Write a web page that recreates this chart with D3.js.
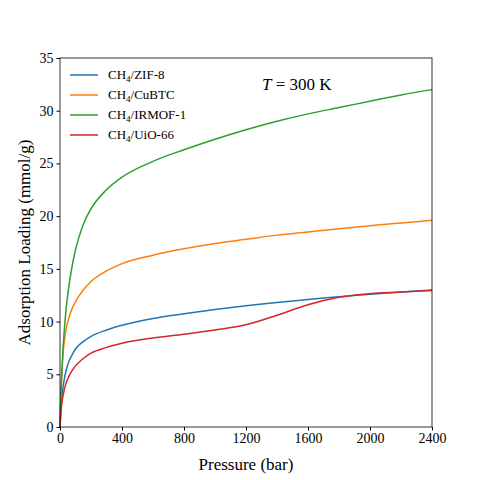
<!DOCTYPE html>
<html><head><meta charset="utf-8">
<script src="https://cdn.jsdelivr.net/npm/d3@7"></script>
<style>body{margin:0;background:#fff}text{font-family:"Liberation Serif","DejaVu Serif",serif}</style>
</head><body><svg id="c" width="480" height="480"></svg>
<script>
const pressure = [0,2,5,10,20,40,60,80,100,150,200,300,400,600,800,1000,1200,1400,1600,1800,2000,2200,2400];
const zif8   = [0,0.6,1.4,2.4,3.8,5.4,6.3,6.9,7.4,8.1,8.6,9.2,9.65,10.3,10.75,11.15,11.5,11.8,12.1,12.35,12.6,12.8,13.0];
const cubtc  = [0,1.2,2.8,4.6,7.0,9.3,10.5,11.3,11.9,13.0,13.8,14.8,15.5,16.3,16.9,17.4,17.8,18.2,18.5,18.8,19.1,19.35,19.6];
const irmof  = [0,1.0,2.5,4.5,7.5,11.3,13.6,15.4,16.8,19.2,20.7,22.5,23.7,25.2,26.3,27.3,28.2,29.0,29.7,30.3,30.9,31.5,32.0];
const uio66  = [0,0.5,1.2,2.0,3.0,4.2,4.9,5.4,5.8,6.5,7.0,7.55,7.95,8.45,8.8,9.2,9.7,10.6,11.6,12.3,12.65,12.8,12.95];
const seriesNames = ["ZIF-8","CuBTC","IRMOF-1","UiO-66"];
const colors = ["#1f77b4","#ff7f0e","#2ca02c","#d62728"];
const xTicks = [0,400,800,1200,1600,2000,2400];
const yTicks = [0,5,10,15,20,25,30,35];
const data = [zif8,cubtc,irmof,uio66];

const svg = d3.select("#c");
const m = {l:60,r:48,t:58,b:53};
const W=480-m.l-m.r, H=480-m.t-m.b;
const x = d3.scaleLinear().domain([0,2400]).range([m.l,m.l+W]);
const y = d3.scaleLinear().domain([0,35]).range([m.t+H,m.t]);
const line = d3.line().x((d,i)=>x(pressure[i])).y(d=>y(d)).curve(d3.curveMonotoneX);
data.forEach((s,k)=>svg.append("path").attr("d",line(s)).attr("fill","none").attr("stroke",colors[k]).attr("stroke-width",1.5));
const gx = svg.append("g").attr("transform",`translate(0,${m.t+H})`).call(d3.axisBottom(x).tickValues(xTicks).tickFormat(d3.format("d")).tickSize(3.5).tickSizeOuter(0));
const gy = svg.append("g").attr("transform",`translate(${m.l},0)`).call(d3.axisLeft(y).tickValues(yTicks).tickFormat(d3.format("d")).tickSize(3.5).tickSizeOuter(0));
[gx,gy].forEach(g=>{g.select(".domain").remove();g.attr("font-family","Liberation Serif, serif").attr("font-size",14);});
svg.append("rect").attr("x",m.l).attr("y",m.t).attr("width",W).attr("height",H).attr("fill","none").attr("stroke","#000").attr("stroke-width",0.8);
svg.append("text").attr("x",m.l+W/2).attr("y",470).attr("text-anchor","middle").attr("font-size",17).text("Pressure (bar)");
svg.append("text").attr("transform",`translate(30,${m.t+H/2}) rotate(-90)`).attr("text-anchor","middle").attr("font-size",17).text("Adsorption Loading (mmol/g)");
const t = svg.append("text").attr("x",262).attr("y",90).attr("font-size",17);
t.append("tspan").attr("font-style","italic").text("T");
t.append("tspan").text(" = 300 K");
seriesNames.forEach((n,k)=>{
  const yy = 75+k*20;
  svg.append("line").attr("x1",70).attr("x2",98).attr("y1",yy).attr("y2",yy).attr("stroke",colors[k]).attr("stroke-width",1.5);
  const tx = svg.append("text").attr("x",108).attr("y",yy+4).attr("font-size",13);
  tx.append("tspan").text("CH");
  tx.append("tspan").attr("font-size",9).attr("dy",3).text("4");
  tx.append("tspan").attr("dy",-3).text("/"+n);
});
</script></body></html>
